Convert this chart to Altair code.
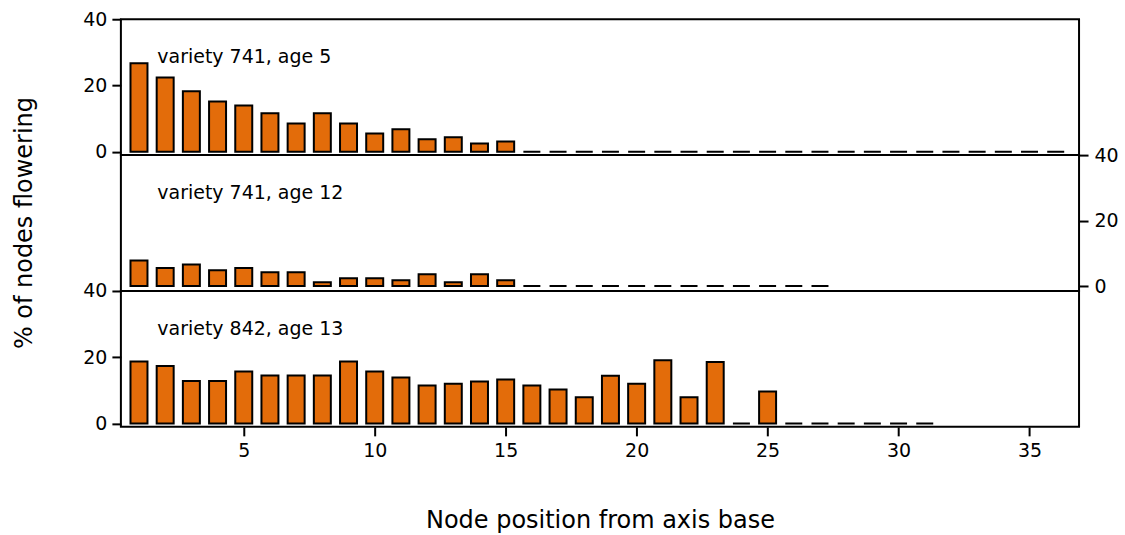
import altair as alt
import pandas as pd

# Percentage of nodes flowering at each node position, per variety/age group
panel_labels = ["variety 741, age 5", "variety 741, age 12", "variety 842, age 13"]

pct_741_age5 = [26.7, 22.4, 18.3, 15.2, 14.0, 11.6, 8.5, 11.6, 8.5, 5.5,
                6.8, 3.8, 4.4, 2.5, 3.1, 0, 0, 0, 0, 0,
                0, 0, 0, 0, 0, 0, 0, 0, 0, 0,
                0, 0, 0, 0, 0, 0]
pct_741_age12 = [7.8, 5.5, 6.6, 4.8, 5.5, 4.2, 4.2, 1.2, 2.4, 2.4,
                 1.8, 3.6, 1.2, 3.6, 1.8, 0, 0, 0, 0, 0,
                 0, 0, 0, 0, 0, 0, 0]
pct_842_age13 = [18.7, 17.4, 12.8, 12.8, 15.7, 14.5, 14.5, 14.5, 18.7, 15.7,
                 13.9, 11.5, 12.0, 12.7, 13.3, 11.5, 10.3, 7.9, 14.4, 12.0,
                 19.1, 7.9, 18.6, 0, 9.7, 0, 0, 0, 0, 0,
                 0]

x_ticks = [5, 10, 15, 20, 25, 30, 35]
y_ticks = [0, 20, 40]

# Anchor of each panel's caption, in data units (node, percent)
label_node = 1.7
label_pct = 26.7

FONT = "DejaVu Sans"
ORANGE = "#E36C0A"
W, H = 959, 136
X_DOMAIN = [0.5, 36.7]


def panel(values, label, y_orient, y_domain, show_x=False, extra=None):
    df = pd.DataFrame({"node": list(range(1, len(values) + 1)), "pct": values})
    if show_x:
        x_axis = alt.Axis(values=x_ticks, title="Node position from axis base",
                          titleFont=FONT, titleFontSize=24, titleFontWeight="normal",
                          titleColor="black", titlePadding=48, labelPadding=6,
                          labelFlush=False, labelFont=FONT, labelFontSize=19,
                          labelColor="black", tickColor="black", tickWidth=2,
                          tickSize=9, domain=False, grid=False)
    else:
        x_axis = None
    y_axis = alt.Axis(values=y_ticks, orient=y_orient, title="", labelFlush=False,
                      labelPadding=5 if y_orient == "left" else 6,
                      labelFont=FONT, labelFontSize=19, labelColor="black",
                      tickColor="black", tickWidth=2, tickSize=9,
                      domain=False, grid=False)
    x_scale = alt.Scale(domain=X_DOMAIN, nice=False, zero=False)
    y_scale = alt.Scale(domain=y_domain, nice=False)

    bars = alt.Chart(df).mark_bar(size=17, fill=ORANGE, stroke="black",
                                  strokeWidth=2).encode(
        x=alt.X("node:Q", scale=x_scale, axis=x_axis),
        y=alt.Y("pct:Q", scale=y_scale, axis=y_axis),
    )
    caption = pd.DataFrame({"node": [label_node], "pct": [label_pct], "label": [label]})
    text = alt.Chart(caption).mark_text(
        align="left", baseline="alphabetic", font=FONT, fontSize=19, color="black"
    ).encode(
        x=alt.X("node:Q", scale=x_scale, axis=x_axis),
        y=alt.Y("pct:Q", scale=y_scale, axis=y_axis),
        text="label:N",
    )
    layers = [bars, text]
    if extra is not None:
        layers.append(extra)
    return alt.layer(*layers).properties(width=W, height=H)


# Shared y-axis title, drawn beside the middle panel
y_title = alt.Chart(pd.DataFrame({"t": ["% of nodes flowering"]})).mark_text(
    angle=270, align="center", baseline="alphabetic", font=FONT, fontSize=24,
    color="black"
).encode(x=alt.value(-89), y=alt.value(H / 2), text="t:N")

p1 = panel(pct_741_age5, panel_labels[0], "left", [-1, 40])
p2 = panel(pct_741_age12, panel_labels[1], "right", [-1.5, 40], extra=y_title)
p3 = panel(pct_842_age13, panel_labels[2], "left", [-1, 40], show_x=True)

chart = alt.vconcat(p1, p2, p3, spacing=0, bounds="flush").properties(
    padding={"left": 12, "top": 9, "right": 5, "bottom": 0}
).configure_view(
    stroke="black", strokeWidth=2
)

chart.save("out.html", embed_options={"renderer": "svg", "actions": False})
